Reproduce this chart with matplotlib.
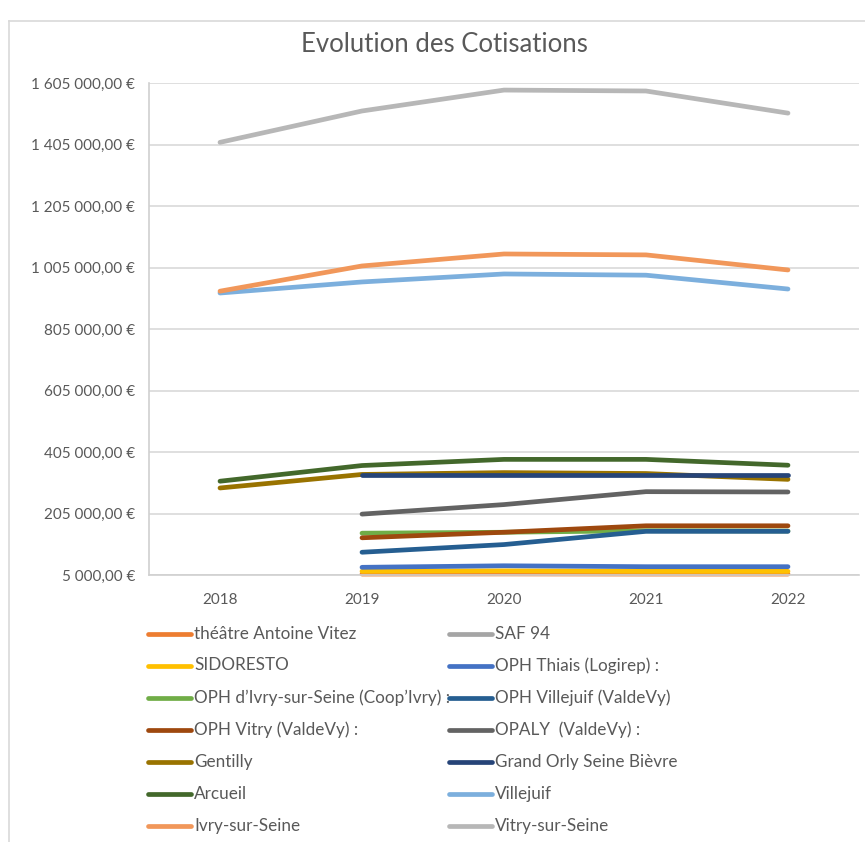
import numpy as np
import matplotlib
matplotlib.use("Agg")
import matplotlib.pyplot as plt
from matplotlib.lines import Line2D
from matplotlib.ticker import FuncFormatter

plt.rcParams['font.family'] = ['Lato', 'DejaVu Sans']

years = ["2018", "2019", "2020", "2021", "2022"]
nan = np.nan

series_names = [
    "théâtre Antoine Vitez", "SAF 94", "SIDORESTO", "OPH Thiais (Logirep) :",
    "OPH d\u2019Ivry-sur-Seine (Coop\u2019Ivry) :", "OPH Villejuif (ValdeVy)",
    "OPH Vitry (ValdeVy) :", "OPALY  (ValdeVy) :", "Gentilly",
    "Grand Orly Seine Bièvre", "Arcueil", "Villejuif", "Ivry-sur-Seine",
    "Vitry-sur-Seine",
]

theatre_vitez = [nan, 8000, 8500, 8000, 8000]
saf_94 = [nan, nan, nan, nan, nan]
sidoresto = [nan, 17000, 18500, 17000, 17000]
oph_thiais = [nan, 30000, 35000, 32000, 32000]
oph_ivry = [nan, 141000, 144000, 149000, 148000]
oph_villejuif = [nan, 79000, 104000, 147000, 147000]
oph_vitry = [nan, 126000, 144000, 165000, 165000]
opaly = [nan, 203000, 234000, 276000, 275000]
gentilly = [288000, 332000, 338000, 335000, 316000]
grand_orly = [nan, 330000, 330000, 330000, 330000]
arcueil = [310000, 361000, 381000, 381000, 362000]
villejuif = [922000, 958000, 984000, 980000, 935000]
ivry = [928000, 1010000, 1049000, 1046000, 997000]
vitry = [1412000, 1514000, 1582000, 1579000, 1507000]

series_values = [theatre_vitez, saf_94, sidoresto, oph_thiais, oph_ivry,
                 oph_villejuif, oph_vitry, opaly, gentilly, grand_orly,
                 arcueil, villejuif, ivry, vitry]

colors = ["#ED7D31", "#A5A5A5", "#FFC000", "#4472C4", "#70AD47", "#255E91",
          "#9E480E", "#636363", "#997300", "#264478", "#43682B", "#7CAFDD",
          "#F1975A", "#B7B7B7"]

W, H = 865, 842
fig = plt.figure(figsize=(W / 100, H / 100), dpi=100)
ax = fig.add_axes([149 / W, 1 - 575 / H, (859 - 149) / W, (575 - 83) / H])

LW = 3.4
x = np.arange(len(years)) + 0.5
for name, vals, c in zip(series_names, series_values, colors):
    ax.plot(x, vals, color=c, lw=LW, solid_capstyle='round',
            solid_joinstyle='round', label=name, clip_on=False)

ax.set_xlim(0, len(years))
ax.set_ylim(5000, 1605000)
ax.set_yticks(np.arange(5000, 1605001, 200000))


def fmt(v, pos):
    s = f"{v:,.2f}".replace(",", " ").replace(".", ",")
    return s + " \u20ac"


ax.yaxis.set_major_formatter(FuncFormatter(fmt))
ax.set_xticks(x)
ax.set_xticklabels(years)
ax.tick_params(axis='both', length=0, labelsize=11, colors="#595959")
ax.tick_params(axis='y', pad=10)
ax.tick_params(axis='x', pad=13)
ax.grid(axis='y', color="#D9D9D9", lw=1.2)
ax.set_axisbelow(True)
for s in ["top", "right"]:
    ax.spines[s].set_visible(False)
for s in ["left", "bottom"]:
    ax.spines[s].set_color("#D0D0D0")
    ax.spines[s].set_linewidth(1.2)

fig.text(444 / W, 1 - 45 / H, "Evolution des Cotisations", ha="center",
         va="center", fontsize=18.5, color="#595959")

# manual legend, Excel row-wise order in two columns
row_y = [634, 665.5, 697.5, 729.5, 762, 794, 826]
col_x = [148, 449]
line_len = 43
for i, (name, c) in enumerate(zip(series_names, colors)):
    r, col = divmod(i, 2)
    yy = 1 - row_y[r] / H
    x0 = col_x[col]
    fig.add_artist(Line2D([x0 / W, (x0 + line_len) / W], [yy, yy], color=c,
                          lw=LW, solid_capstyle='round'))
    fig.text((x0 + line_len + 3) / W, yy, name, ha="left", va="center",
             fontsize=12.3, color="#595959")

# chart border (left and top)
fig.add_artist(Line2D([9 / W, 9 / W], [0, 1 - 21 / H], color="#D9D9D9", lw=1.2))
fig.add_artist(Line2D([9 / W, 1], [1 - 21 / H, 1 - 21 / H], color="#D9D9D9", lw=1.2))

fig.savefig("out.png", dpi=100)
